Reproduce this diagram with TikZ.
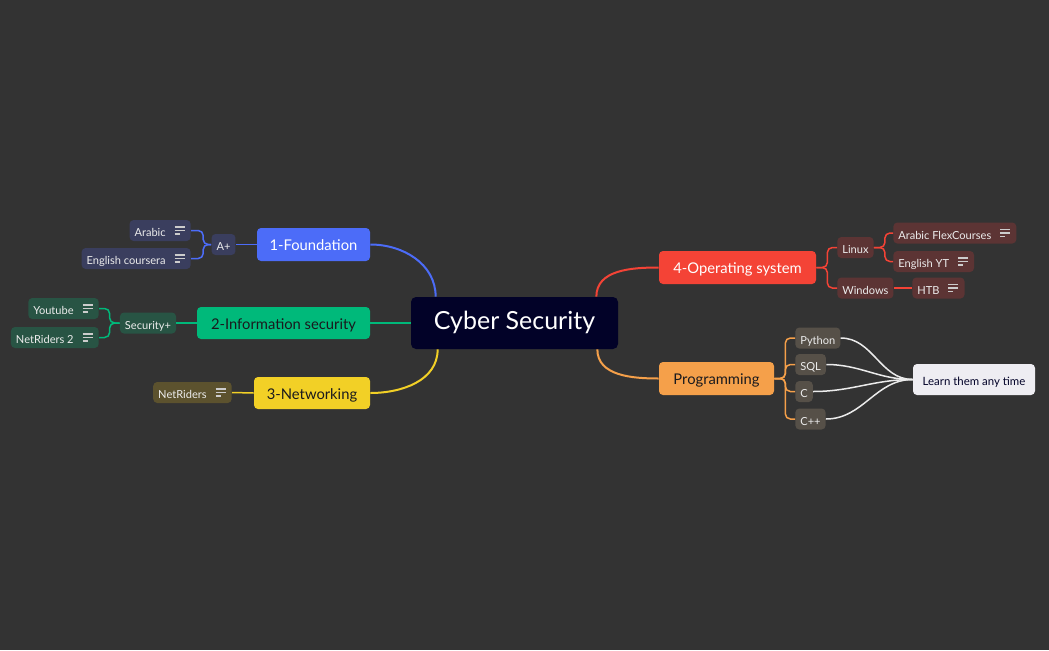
\documentclass[tikz,border=0pt]{standalone}
\usepackage{fontspec}
\setmainfont{Lato}
\usepackage{tikz}
\usetikzlibrary{positioning}
\definecolor{bgcol}{RGB}{51,51,51}
\definecolor{cnavy}{RGB}{2,2,40}
\definecolor{cblue}{RGB}{76,108,248}
\definecolor{cbluesub}{RGB}{58,62,94}
\definecolor{cgreen}{RGB}{0,185,122}
\definecolor{cgreensub}{RGB}{40,84,68}
\definecolor{cyellow}{RGB}{242,208,38}
\definecolor{cyellowsub}{RGB}{92,82,46}
\definecolor{cred}{RGB}{244,67,54}
\definecolor{credsub}{RGB}{92,52,52}
\definecolor{corange}{RGB}{245,160,74}
\definecolor{corangesub}{RGB}{86,80,72}
\definecolor{clearn}{RGB}{238,237,242}
\definecolor{cdark}{RGB}{26,26,30}
\definecolor{cleaftext}{RGB}{236,236,236}
\newcommand\iconspace{\kern4mm}
\tikzstyle{main}=[rectangle,rounded corners=0.8mm,inner sep=0mm,minimum height=6.6mm,text height=1.45ex,text depth=0ex,font=\fontsize{8.4}{9}\selectfont]
\tikzstyle{leaf}=[rectangle,rounded corners=0.8mm,inner xsep=1mm,inner ysep=0mm,minimum height=4.2mm,text height=1.45ex,text depth=0ex,text=cleaftext,font=\fontsize{6.3}{7}\selectfont]
\tikzstyle{branch}=[line width=0.4mm]
\tikzstyle{twig}=[line width=0.3mm,rounded corners=1mm]
\tikzstyle{link}=[line width=0.3mm,draw=white!92!black]
\tikzset{noteicon/.pic={
    \draw[line width=0.22mm,white!80!black] (-10,3.5)--(0,3.5) (-10,0)--(0,0) (-10,-3.5)--(-5,-3.5);
  }
}

\begin{document}
\begin{tikzpicture}[x=0.2mm,y=0.2mm]
          \fill[bgcol] (0,0) rectangle (1049,-650);
          \useasboundingbox (0,0) rectangle (1049,-650);
          % centre and main branches
          \node[main, fill=cnavy, text=white, minimum width=41.4mm, minimum height=10.4mm, rounded corners=1mm, font=\fontsize{14.2}{16}\selectfont] at (514.5,-323) (cyber) {Cyber Security};
          \node[main, fill=cblue, text=white, minimum width=22.6mm] at (313.5,-244.5) (found) {1-Foundation};
          \node[main, fill=cgreen, text=cdark, minimum width=34.6mm, minimum height=6.4mm] at (283.5,-323) (infosec) {2-Information security};
          \node[main, fill=cyellow, text=cdark, minimum width=23.2mm, minimum height=6.4mm] at (312,-393) (netw) {3-Networking};
          \node[main, fill=cred, text=white, minimum width=31.4mm] at (737.5,-267.5) (opsys) {4-Operating system};
          \node[main, fill=corange, text=cdark, minimum width=23mm] at (716.5,-378.5) (prog) {Programming};
          \draw[branch, cblue] ([xshift=5mm]cyber.north west) to[out=90,in=0] (found.east);
          \draw[branch, cgreen] (cyber.west) -- (infosec.east);
          \draw[branch, cyellow] ([xshift=5.4mm]cyber.south west) to[out=270,in=0] (netw.east);
          \draw[branch, cred] ([xshift=-4.4mm]cyber.north east) to[out=90,in=180] (opsys.west);
          \draw[branch, corange] ([xshift=-4.2mm]cyber.south east) to[out=270,in=180] (prog.west);
          % 1-Foundation
          \node[leaf, fill=cbluesub] at (223.5,-244.5) (aplus) {A+};
          \node[leaf, fill=cbluesub, anchor=east] at (191,-230.5) (arabic) {Arabic\iconspace};
          \node[leaf, fill=cbluesub, anchor=east] at (191,-258.5) (engcour) {English coursera\iconspace};
          \pic at ([xshift=-1.3mm]arabic.east) {noteicon};
          \pic at ([xshift=-1.3mm]engcour.east) {noteicon};
          \draw[twig, cblue] (found.west) -- (aplus.east);
          \draw[twig, cblue] (aplus.west) -- ++(-8,0) |- (arabic.east);
          \draw[twig, cblue] (aplus.west) -- ++(-8,0) |- (engcour.east);
          % 2-Information security
          \node[leaf, fill=cgreensub] at (148,-323) (secplus) {Security+};
          \node[leaf, fill=cgreensub, anchor=east] at (99,-308.5) (youtube) {Youtube\iconspace};
          \node[leaf, fill=cgreensub, anchor=east] at (99,-337.5) (netr2) {NetRiders 2\iconspace};
          \pic at ([xshift=-1.3mm]youtube.east) {noteicon};
          \pic at ([xshift=-1.3mm]netr2.east) {noteicon};
          \draw[twig, cgreen] (infosec.west) -- (secplus.east);
          \draw[twig, cgreen] (secplus.west) -- ++(-10,0) |- (youtube.east);
          \draw[twig, cgreen] (secplus.west) -- ++(-10,0) |- (netr2.east);
          % 3-Networking
          \node[leaf, fill=cyellowsub, anchor=east] at (232,-392.5) (netr) {NetRiders\iconspace};
          \pic at ([xshift=-1.3mm]netr.east) {noteicon};
          \draw[twig, cyellow] (netw.west) -- (netr.east);
          % 4-Operating system
          \node[leaf, fill=credsub, anchor=west] at (837,-247.5) (linux) {Linux};
          \node[leaf, fill=credsub, anchor=west] at (837,-288) (windows) {Windows};
          \node[leaf, fill=credsub, anchor=west] at (893,-233) (arflex) {Arabic FlexCourses\iconspace};
          \node[leaf, fill=credsub, anchor=west] at (893,-261.5) (engyt) {English YT\iconspace};
          \node[leaf, fill=credsub, anchor=west] at (912,-288) (htb) {HTB\iconspace};
          \pic at ([xshift=-1.3mm]arflex.east) {noteicon};
          \pic at ([xshift=-1.3mm]engyt.east) {noteicon};
          \pic at ([xshift=-1.3mm]htb.east) {noteicon};
          \draw[twig, cred] (opsys.east) -- ++(11,0) |- (linux.west);
          \draw[twig, cred] (opsys.east) -- ++(11,0) |- (windows.west);
          \draw[twig, cred] (linux.east) -- ++(11,0) |- (arflex.west);
          \draw[twig, cred] (linux.east) -- ++(11,0) |- (engyt.west);
          \draw[twig, cred] (windows.east) -- (htb.west);
          % Programming
          \node[leaf, fill=corangesub, anchor=west] at (795,-338) (python) {Python};
          \node[leaf, fill=corangesub, anchor=west] at (795,-364.5) (sql) {SQL};
          \node[leaf, fill=corangesub, anchor=west] at (795,-391.5) (clang) {C};
          \node[leaf, fill=corangesub, anchor=west] at (795,-419) (cpp) {C++};
          \node[main, fill=clearn, text=cnavy, minimum width=24.4mm, minimum height=6.2mm, font=\fontsize{6.5}{7}\selectfont] at (974,-379.5) (learn) {Learn them any time};
          \foreach \lang in {python,sql,clang,cpp}
            \draw[twig, corange] (prog.east) -- ++(11,0) |- (\lang.west);
          \foreach \lang in {python,sql,clang,cpp}
            \draw[link] (\lang.east) to[out=0,in=180] (learn.west);
        \end{tikzpicture}
\end{document}
